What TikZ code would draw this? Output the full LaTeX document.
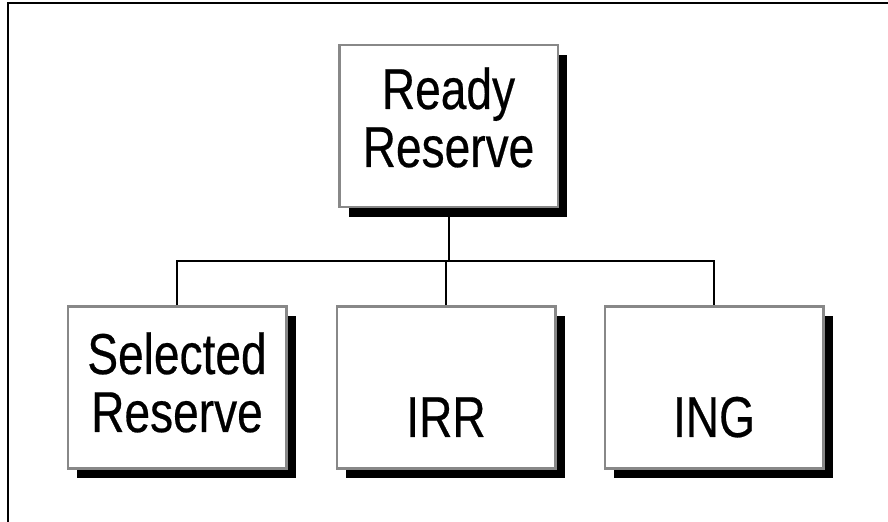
\documentclass[tikz,border=0pt]{standalone}
\usepackage{fontspec}
\setmainfont{Liberation Sans}[FakeStretch=0.80, FakeBold=0.4]
\usetikzlibrary{shadows}
\begin{document}
\begin{tikzpicture}[x=0.5pt,y=-0.5pt,
  orgbox/.style={draw=boxgray, line width=1.25pt, fill=white,
    minimum width=109.25pt, minimum height=81pt, inner sep=0pt,
    align=center, font=\fontsize{28.8}{29}\selectfont, text depth=0pt,
    drop shadow={shadow xshift=4.75pt, shadow yshift=-5pt, fill=black, opacity=1}},
  conn/.style={draw=black, line width=1pt},
  frame/.style={draw=black, line width=1pt}]
\definecolor{boxgray}{HTML}{888888}
\useasboundingbox (0,0) rectangle (888,522);
\draw[frame] (7.5,522) -- (7.5,3) -- (888,3);
\coordinate (bus) at (448.5,261.5);
\node[orgbox, text height=41pt] (top) at (448.5,126) {Ready\\Reserve};
\node[orgbox, text height=44.5pt] (sel) at (177,387.5) {Selected\\Reserve};
\node[orgbox, text height=49.5pt] (irr) at (446,387.5) {IRR};
\node[orgbox, text height=49.5pt] (ing) at (714,387.5) {ING};
\draw[conn] (top.south) -- (top.south |- bus);
\draw[conn] (sel.north) -- (sel.north |- bus) -- (ing.north |- bus) -- (ing.north);
\draw[conn] (irr.north) -- (irr.north |- bus);
\end{tikzpicture}
\end{document}
